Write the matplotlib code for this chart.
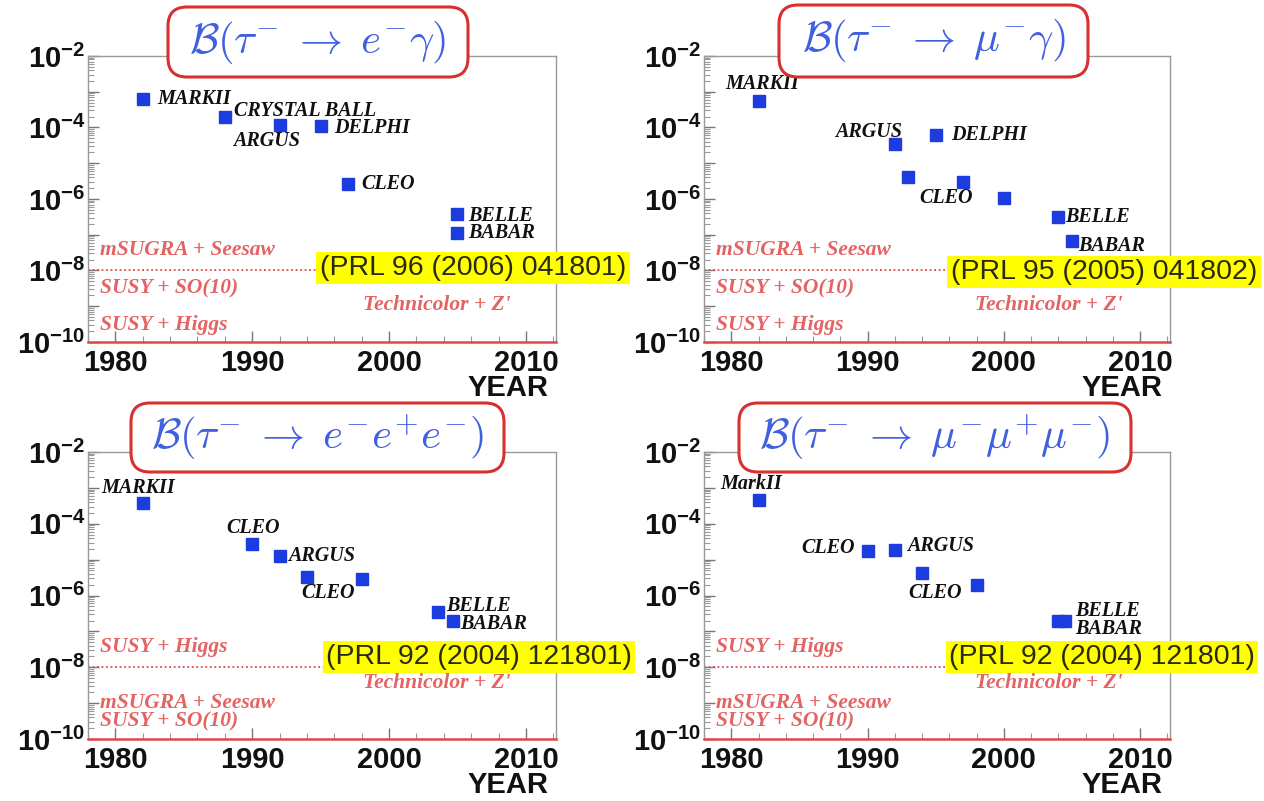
import numpy as np
import matplotlib
matplotlib.use("Agg")
from matplotlib import pyplot as plt
from matplotlib.patches import FancyBboxPatch
from matplotlib.ticker import FixedLocator, LogLocator, MultipleLocator, FuncFormatter, NullFormatter

plt.rcParams['font.family'] = ['Liberation Sans', 'DejaVu Sans']
plt.rcParams['mathtext.fontset'] = 'custom'
plt.rcParams['mathtext.rm'] = 'Liberation Sans:bold'
plt.rcParams['mathtext.it'] = 'Liberation Sans:bold'
plt.rcParams['mathtext.bf'] = 'Liberation Sans:bold'

W, H = 1264, 801

# tau -> e gamma
eg_years = [1982, 1988, 1992, 1995, 1997, 2005, 2005]
eg_limits = [6.4e-4, 2.0e-4, 1.2e-4, 1.1e-4, 2.7e-6, 3.9e-7, 1.1e-7]
eg_exps = ['MARKII', 'CRYSTAL BALL', 'ARGUS', 'DELPHI', 'CLEO', 'BELLE', 'BABAR']

# tau -> mu gamma
mg_years = [1982, 1992, 1993, 1995, 1997, 2000, 2004, 2005]
mg_limits = [5.5e-4, 3.4e-5, 4.2e-6, 6.2e-5, 3.0e-6, 1.1e-6, 3.1e-7, 6.8e-8]
mg_exps = ['MARKII', 'ARGUS', '', 'DELPHI', 'CLEO', '', 'BELLE', 'BABAR']

# tau -> e e e
eee_years = [1982, 1990, 1992, 1994, 1998, 2003.6, 2004.7]
eee_limits = [3.8e-4, 2.7e-5, 1.3e-5, 3.3e-6, 2.9e-6, 3.5e-7, 2.0e-7]
eee_exps = ['MARKII', 'CLEO', 'ARGUS', 'CLEO', '', 'BELLE', 'BABAR']

# tau -> mu mu mu
mmm_years = [1982, 1990, 1992, 1994, 1998, 2004.0, 2004.5]
mmm_limits = [4.6e-4, 1.7e-5, 1.8e-5, 4.3e-6, 1.9e-6, 2.0e-7, 2.0e-7]
mmm_exps = ['MarkII', 'CLEO', 'ARGUS', 'CLEO', '', 'BELLE', 'BABAR']

titles = [r'$\mathcal{B}(\tau^{-}\;\rightarrow\;e^{-}\gamma)$',
          r'$\mathcal{B}(\tau^{-}\;\rightarrow\;\mu^{-}\gamma)$',
          r'$\mathcal{B}(\tau^{-}\;\rightarrow\;e^{-}e^{+}e^{-})$',
          r'$\mathcal{B}(\tau^{-}\;\rightarrow\;\mu^{-}\mu^{+}\mu^{-})$']
refs = ['(PRL 96 (2006) 041801)', '(PRL 95 (2005) 041802)',
        '(PRL 92 (2004) 121801)', '(PRL 92 (2004) 121801)']

models_top = ['mSUGRA + Seesaw', 'SUSY + SO(10)', 'SUSY + Higgs', "Technicolor + Z'"]
models_bot = ['SUSY + Higgs', "Technicolor + Z'", 'mSUGRA + Seesaw', 'SUSY + SO(10)']

# label offsets in pixels (dx, dy, ha) per marker
eg_off = [(15, 0, 'left'), (9, 6, 'left'), (-47, -16, 'left'), (14, -2, 'left'),
          (13, 0, 'left'), (11, -2, 'left'), (11, 0, 'left')]
mg_off = [(-33, 17, 'left'), (7, 12, 'right'), None, (16, 0, 'left'),
          (-17, -16, 'center'), None, (7, 0, 'left'), (6, -5, 'left')]
eee_off = [(-41, 15, 'left'), (1, 16, 'center'), (8, 0, 'left'), (-6, -16, 'left'),
           None, (8, 6, 'left'), (7, -3, 'left')]
mmm_off = [(-38, 16, 'left'), (-13, 3, 'right'), (12, 4, 'left'), (-14, -20, 'left'),
           None, (17, 10, 'left'), (10, -8, 'left')]

panels = [
    dict(rect=(88, 56, 556, 342), years=eg_years, lims=eg_limits, exps=eg_exps, off=eg_off,
         box=(168, 7, 468, 77), ref=(473, 268),
         models=models_top, mpos=[(1978.9, -7.43, 'left'), (1978.9, -8.49, 'left'),
                                  (1978.9, -9.52, 'left'), (2003.5, -8.96, 'center')]),
    dict(rect=(704, 56, 1170, 342), years=mg_years, lims=mg_limits, exps=mg_exps, off=mg_off,
         box=(779, 5, 1088, 77), ref=(1104, 272),
         models=models_top, mpos=[(1978.9, -7.43, 'left'), (1978.9, -8.49, 'left'),
                                  (1978.9, -9.52, 'left'), (2003.3, -8.96, 'center')]),
    dict(rect=(88, 452, 556, 739), years=eee_years, lims=eee_limits, exps=eee_exps, off=eee_off,
         box=(131, 403, 504, 472), ref=(479, 657),
         models=models_bot, mpos=[(1978.9, -7.43, 'left'), (2003.5, -8.43, 'center'),
                                  (1978.9, -8.99, 'left'), (1978.9, -9.52, 'left')]),
    dict(rect=(704, 452, 1170, 739), years=mmm_years, lims=mmm_limits, exps=mmm_exps, off=mmm_off,
         box=(739, 403, 1131, 472), ref=(1102, 657),
         models=models_bot, mpos=[(1978.9, -7.43, 'left'), (2003.3, -8.43, 'center'),
                                  (1978.9, -8.99, 'left'), (1978.9, -9.52, 'left')]),
]

red = '#e04848'
blue = '#1c3ce0'


def even_exp(v, pos):
    e = int(round(np.log10(v)))
    if e % 2:
        return ''
    return r'$10^{%d}$' % e


fig = plt.figure(figsize=(W / 100, H / 100), dpi=100)

for i, p in enumerate(panels):
    l, t, r, b = p['rect']
    ax = fig.add_axes([l / W, 1 - b / H, (r - l) / W, (b - t) / H])
    ax.set_yscale('log')
    ax.set_xlim(1978, 2012.2)
    ax.set_ylim(1e-10, 1e-2)

    ax.plot(p['years'], p['lims'], 's', color=blue, markersize=8.5, zorder=4)
    for x, y, name, off in zip(p['years'], p['lims'], p['exps'], p['off']):
        if not name:
            continue
        dx, dy, ha = off
        ax.annotate(name, (x, y), xytext=(dx * 0.72, dy * 0.72), textcoords='offset points',
                    ha=ha, va='center', fontsize=14.5, family='Liberation Serif',
                    style='italic', weight='bold', color='#111111', zorder=5)

    for txt, (mx, my, ha) in zip(p['models'], p['mpos']):
        ax.text(mx, 10 ** my, txt, ha=ha, va='center', fontsize=15.5,
                family='Liberation Serif', style='italic', weight='bold',
                color=red, alpha=0.85)

    ax.axhline(1e-8, color=red, lw=1.3, ls=(0, (1, 1.5)), zorder=2)

    for s in ['top', 'right', 'left']:
        ax.spines[s].set_color('#999999')
        ax.spines[s].set_linewidth(1)
    ax.spines['bottom'].set_color(red)
    ax.spines['bottom'].set_linewidth(1.8)

    ax.yaxis.set_major_locator(FixedLocator([10.0 ** e for e in range(-10, -1)]))
    ax.yaxis.set_minor_locator(LogLocator(base=10, subs=np.arange(2, 10), numticks=20))
    ax.yaxis.set_major_formatter(FuncFormatter(even_exp))
    ax.yaxis.set_minor_formatter(NullFormatter())
    ax.xaxis.set_major_locator(FixedLocator([1980, 1990, 2000, 2010]))
    ax.xaxis.set_minor_locator(MultipleLocator(2))
    ax.tick_params(axis='both', which='major', direction='in', length=8, width=1,
                   color='#777777', labelsize=21, labelcolor='#111111')
    ax.tick_params(axis='both', which='minor', direction='in', length=4, width=0.8,
                   color='#999999')
    ax.tick_params(axis='x', which='major', pad=5)
    ax.tick_params(axis='y', which='major', pad=2)
    for lab in ax.get_xticklabels():
        lab.set_fontweight('bold')

    ax.text(0.985, -0.16, 'YEAR', transform=ax.transAxes, ha='right', va='center',
            fontsize=21, weight='bold', color='#111111')

    # title box
    bl, bt, br, bb = p['box']
    fig.add_artist(FancyBboxPatch((bl / W, 1 - bb / H), (br - bl) / W, (bb - bt) / H,
                                  boxstyle='round,pad=0,rounding_size=0.015',
                                  transform=fig.transFigure, facecolor='white',
                                  edgecolor='#d83030', linewidth=2.2, zorder=5,
                                  mutation_aspect=W / H))
    fig.text((bl + br) / 2 / W, 1 - (bt + bb) / 2 / H, titles[i], ha='center', va='center',
             fontsize=31, color='#4060e0', math_fontfamily='cm', zorder=6)

    # reference box
    rx, ry = p['ref']
    fig.text(rx / W, 1 - ry / H, refs[i], ha='center', va='center', fontsize=20.5,
             color='#2a2a10', zorder=7,
             bbox=dict(boxstyle='square,pad=0.12', facecolor='#ffff00', edgecolor='none'))

fig.savefig('out.png', dpi=100, facecolor='white')
